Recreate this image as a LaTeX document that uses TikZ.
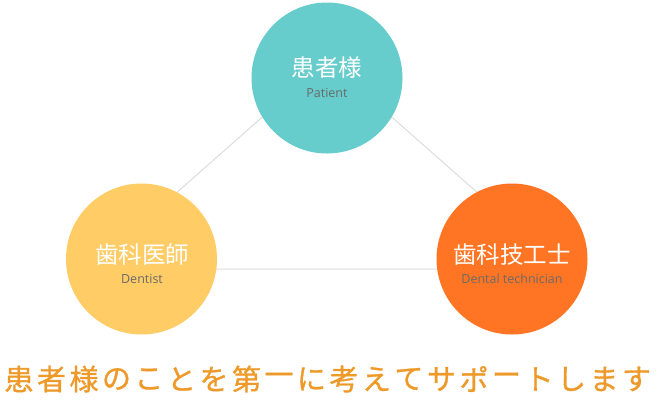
\documentclass[tikz,border=0pt]{standalone}
\usepackage{fontspec}
\setmainfont{Open Sans}
\newfontfamily\jp{Noto Sans CJK JP}
\newfontfamily\jpsl[FakeBold=1]{Noto Sans CJK JP}
\definecolor{teal1}{HTML}{66CCCC}
\definecolor{yel1}{HTML}{FFCC66}
\definecolor{org1}{HTML}{FF7524}
\definecolor{linegray}{HTML}{DDDDDD}
\definecolor{subgray}{HTML}{6A6A6A}
\definecolor{slogan}{HTML}{EE9A2A}
\begin{document}
\begin{tikzpicture}[x=1pt,y=-1pt,
  bubble/.style={circle,minimum size=151pt,inner sep=0pt},
  jptxt/.style={font=\jp\fontsize{23.5}{26}\selectfont,text=white,inner sep=0pt},
  entxt/.style={font=\fontsize{12.5}{14}\selectfont,text=subgray,inner sep=0pt},
  tri/.style={draw=linegray,line width=1pt},
  sl/.style={font=\jpsl\fontsize{29}{32}\selectfont,text=slogan,inner sep=0pt}]
\useasboundingbox (0,0) rectangle (660,400);
\coordinate (tA) at (327,60);
\coordinate (tL) at (90,269);
\coordinate (tR) at (564,269);
\draw[tri] (tA) -- (tL) -- (tR) -- cycle;
\node[bubble,fill=teal1] (pat) at (327,78) {};
\node[bubble,fill=yel1] (den) at (141.5,259) {};
\node[bubble,fill=org1] (tec) at (512,259) {};
\node[jptxt] (patj) at (327,68) {患者様};
\node[entxt] (pate) at (327,93) {Patient};
\node[jptxt] (denj) at (142,255) {歯科医師};
\node[entxt] (dene) at (142,279) {Dentist};
\node[jptxt] (tecj) at (512,255) {歯科技工士};
\node[entxt] (tece) at (512,279) {Dental technician};
\foreach \c [count=\i from 0] in {患,者,様,の,こ,と,を,第,一,に,考,え,て,サ,ポ,ー,ト,し,ま,す}
  \node[sl] (s\i) at (19+32.5*\i,379) {\c};
\end{tikzpicture}
\end{document}
